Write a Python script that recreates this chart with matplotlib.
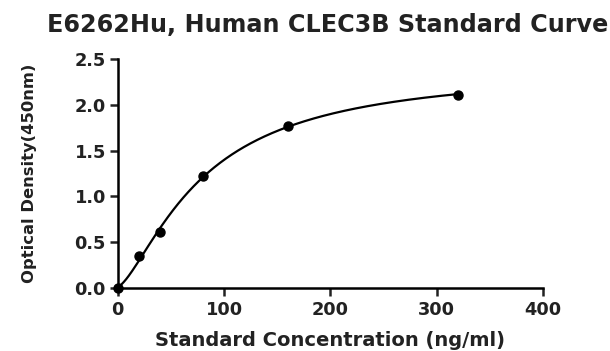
import numpy as np
import matplotlib.pyplot as plt

plt.rcParams['font.family'] = ['DejaVu Sans']
plt.rcParams['font.weight'] = 'bold'

conc = [0, 20, 40, 80, 160, 320]
od = [0.0, 0.35, 0.61, 1.22, 1.77, 2.11]
title = "E6262Hu, Human CLEC3B Standard Curve"

# rough 4PL fit: grid over slope/midpoint, linear solve for the asymptotes
x = np.array(conc, float)
y = np.array(od, float)
best = None
for b in np.linspace(0.8, 3.0, 111):
    for c in np.linspace(30, 300, 271):
        g = 1.0 / (1.0 + (x / c) ** b)
        A = np.column_stack([g, 1 - g])
        coef, *_ = np.linalg.lstsq(A, y, rcond=None)
        err = np.sum((A @ coef - y) ** 2)
        if best is None or err < best[0]:
            best = (err, b, c, coef)
_, b, c, (a, d) = best
xs = np.linspace(0, 320, 400)
ys = d + (a - d) / (1 + (xs / c) ** b)

fig = plt.figure(figsize=(6.1, 3.51), dpi=100)
ax = fig.add_axes([0.193, 0.179, 0.697, 0.653])
ax.plot(xs, ys, color='black', lw=1.6, clip_on=False)
ax.plot(conc, od, 'o', color='black', ms=6.5, clip_on=False)

ax.set_xlim(0, 400)
ax.set_ylim(0, 2.5)
ax.set_xticks([0, 100, 200, 300, 400])
ax.set_yticks([0.0, 0.5, 1.0, 1.5, 2.0, 2.5])
ax.set_yticklabels(['0.0', '0.5', '1.0', '1.5', '2.0', '2.5'])
for s in ['top', 'right']:
    ax.spines[s].set_visible(False)
for s in ['left', 'bottom']:
    ax.spines[s].set_linewidth(1.8)
ax.tick_params(width=1.8, length=6, labelsize=12.8, colors='#222222')
ax.tick_params(axis='y', pad=2.5)
ax.tick_params(axis='x', pad=3)
ax.set_xlabel('Standard Concentration (ng/ml)', fontsize=14, fontweight='bold',
              color='#222222')
ax.set_ylabel('Optical Density(450nm)', fontsize=11.8, fontweight='bold',
              color='#222222')
ax.xaxis.set_label_coords(0.5, -0.188)
ax.yaxis.set_label_coords(-0.19, 0.5)
fig.text(0.537, 0.93, title, ha='center', va='center', fontsize=17.2,
         fontweight='bold', color='#222222')

fig.savefig('out.png', dpi=100)
